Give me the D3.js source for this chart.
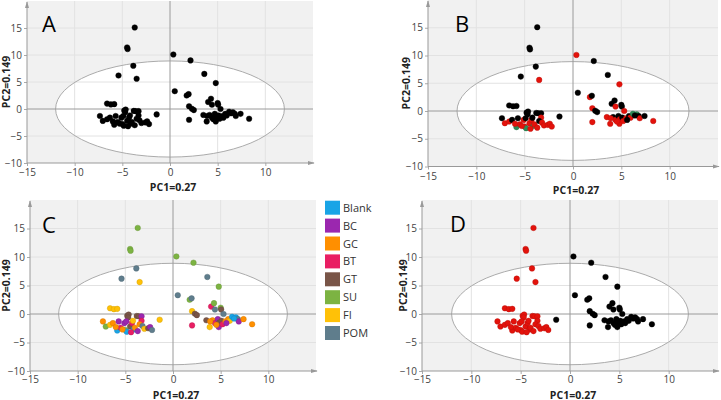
<!DOCTYPE html>
<html><head><meta charset="utf-8">
<script src="https://cdn.jsdelivr.net/npm/d3@7"></script>
<style>body{margin:0;background:#fff;} svg{display:block;font-family:"Open Sans",sans-serif;}</style>
</head><body><svg id="c" width="721" height="400"></svg>
<script>
// PCA scores (same samples in every panel)
const pc1 = [-3.7,-4.5,-4.45,-3.85,-5.4,-3.5,
  0.35,2.15,3.6,4.8,0.5,1.75,1.95,2.0,2.3,2.5,2.0,-1.4,
  -6.6,-6.2,-5.85,
  -7.35,-7.05,-6.6,-6.3,-5.7,-5.85,-5.5,-5.1,-5.0,-4.85,-4.8,-4.65,-4.7,-4.9,-4.5,-4.3,-4.1,-4.0,-3.8,-3.6,-3.3,-3.3,-3.5,-3.2,-3.0,-2.6,-2.4,-2.2,-3.7,-4.4,-5.3,-4.2,-6.0,
  4.0,4.3,4.4,5.0,5.05,5.3,3.5,3.85,4.15,4.4,4.7,4.8,4.85,5.1,5.2,5.5,5.8,5.95,6.2,6.6,6.8,6.9,7.4,8.3,4.55,5.6,3.9,6.4];
const pc2 = [15.1,11.4,11.1,8.0,6.2,5.6,
  10.1,9.0,6.5,4.8,3.3,2.5,2.75,0.5,0.05,-0.2,-2.0,-1.0,
  1.0,0.85,0.9,
  -1.3,-2.2,-1.9,-1.6,-1.3,-2.9,-2.4,-1.6,-2.8,-3.1,-0.3,-0.1,-0.6,-1.3,-2.2,-1.6,-2.7,-2.4,-0.35,-0.4,-0.4,-1.2,-1.8,-2.1,-2.6,-2.5,-2.3,-2.8,-3.0,-3.2,-2.7,-1.2,-2.3,
  1.3,1.9,0.8,1.1,0.8,0.0,-1.1,-2.3,-1.1,-1.6,-0.9,-2.3,-1.5,-1.2,-1.8,-1.3,-0.9,-1.2,-0.5,-0.6,-0.9,-1.3,-0.9,-1.8,-1.9,-1.6,-1.3,-0.8];
// panel C: sample type
const groupC = ["SU","SU","SU","POM","POM","FI",
  "SU","SU","POM","SU","POM","SU","POM","FI","GT","GT","BT","FI",
  "FI","FI","FI",
  "GC","SU","FI","GC","BC","Blank","BT","BC","SU","Blank","GT","GT","GT","BC","GT","BT","Blank","GC","GT","GT","BC","BT","GC","POM","FI","GT","BC","POM","BC","BT","GC","FI","GC",
  "BT","SU","POM","SU","GT","POM","GT","FI","GC","BT","BC","BC","GT","GT","BT","GC","GC","FI","Blank","Blank","POM","BC","GC","GC","GC","BC","GC","Blank"];
// panel B: k = black, r = red, g = green
const groupB = ["k","k","k","k","k","r",
  "r","k","k","r","k","r","k","r","k","k","r","k",
  "k","k","k",
  "k","r","r","k","k","g","r","r","r","g","k","k","k","k","r","r","g","r","k","k","k","r","k","r","r","r","r","r","r","r","r","k","r",
  "k","k","r","k","k","r","r","r","k","r","k","r","r","k","r","r","k","r","g","g","k","r","k","r","r","k","r","k"];
// panel D: two clusters
const groupD = ["r","r","r","r","r","r",
  "k","k","k","k","k","k","k","k","k","k","k","k",
  "r","r","r",
  "r","r","r","r","r","r","r","r","r","r","r","r","r","r","r","r","r","r","r","r","r","r","r","r","r","r","r","r","r","r","r","r","r",
  "k","k","k","k","k","k","k","k","k","k","k","k","k","k","k","k","k","k","k","k","k","k","k","k","k","k","k","k"];

const legendLabels = ["Blank","BC","GC","BT","GT","SU","FI","POM"];
const legendColors = ["#19a4e6","#9b27af","#ff8f00","#e91e63","#795548","#7cb342","#ffc107","#5f7d8c"];
const twoColors = {k:"#000000", r:"#e3120b", g:"#2e8b57"};
const xTicks = [-15,-10,-5,0,5,10];
const yTicks = [-10,-5,0,5,10,15];
const gridX = [-10,-5,5,10];
const gridY = [-5,5,10,15];

const colorC = d3.scaleOrdinal(legendLabels, legendColors);

const panels = [
  {letter:"A", x0:27, x1:313, y0:1, y1:163, lx:42, ly:32, ylabX:9.5, xlabY:191, pad:3, color:()=>"#000"},
  {letter:"B", x0:428, x1:718, y0:0, y1:166.5, lx:455, ly:32, ylabX:410, xlabY:194, pad:3, color:i=>twoColors[groupB[i]]},
  {letter:"C", x0:30, x1:316, y0:200, y1:371, lx:42, ly:233, ylabX:9.5, xlabY:398.5, pad:2, color:i=>colorC(groupC[i])},
  {letter:"D", x0:422, x1:718, y0:200, y1:371, lx:450, ly:232, ylabX:406.5, xlabY:398.5, pad:2, color:i=>twoColors[groupD[i]]}
];

const svg = d3.select("#c");
const defs = svg.append("defs");
defs.append("marker").attr("id","arr").attr("viewBox","0 0 10 10").attr("refX",9).attr("refY",5)
  .attr("markerWidth",7).attr("markerHeight",7).attr("orient","auto")
  .append("path").attr("d","M0,2 L10,5 L0,8 Z").attr("fill","#999");

const idx = d3.range(pc1.length);

panels.forEach(p => {
  const x = d3.scaleLinear([-15,15],[p.x0,p.x1]);
  const y = d3.scaleLinear([-10,20],[p.y1,p.y0]);
  const g = svg.append("g");
  g.append("rect").attr("x",p.x0).attr("y",p.y0).attr("width",p.x1-p.x0).attr("height",p.y1-p.y0).attr("fill","#f1f1f1");
  g.append("ellipse").attr("cx",x(0)).attr("cy",y(0)).attr("rx",x(12)-x(0)).attr("ry",y(0)-y(8.9))
    .attr("fill","#ffffff");
  g.selectAll(".gx").data(gridX).join("line").attr("x1",d=>x(d)).attr("x2",d=>x(d)).attr("y1",p.y0).attr("y2",p.y1)
    .attr("stroke","#e2e2e2").attr("stroke-width",1);
  g.selectAll(".gy").data(gridY).join("line").attr("y1",d=>y(d)).attr("y2",d=>y(d)).attr("x1",p.x0).attr("x2",p.x1)
    .attr("stroke","#e2e2e2").attr("stroke-width",1);
  g.append("ellipse").attr("cx",x(0)).attr("cy",y(0)).attr("rx",x(12)-x(0)).attr("ry",y(0)-y(8.9))
    .attr("fill","none").attr("stroke","#ababab").attr("stroke-width",1);
  // zero lines
  g.append("line").attr("x1",x(0)).attr("x2",x(0)).attr("y1",p.y0).attr("y2",p.y1).attr("stroke","#9a9a9a");
  g.append("line").attr("x1",p.x0).attr("x2",p.x1).attr("y1",y(0)).attr("y2",y(0)).attr("stroke","#9a9a9a");
  // axes
  const ax = g.append("g").attr("transform",`translate(0,${p.y1})`)
    .call(d3.axisBottom(x).tickValues(xTicks).tickSize(3).tickSizeOuter(0).tickPadding(p.pad));
  const ay = g.append("g").attr("transform",`translate(${p.x0},0)`)
    .call(d3.axisLeft(y).tickValues(yTicks).tickSize(3).tickSizeOuter(0).tickPadding(2));
  [ax,ay].forEach(a=>{
    a.select(".domain").remove();
    a.selectAll("line").attr("stroke","#aaa");
    a.selectAll("text").attr("fill","#444").attr("font-size",10).attr("font-family","Open Sans");
  });
  g.append("line").attr("x1",p.x0).attr("x2",p.x1+1).attr("y1",p.y1).attr("y2",p.y1)
    .attr("stroke","#999").attr("marker-end","url(#arr)");
  g.append("line").attr("x1",p.x0).attr("x2",p.x0).attr("y1",p.y1).attr("y2",p.y0+1)
    .attr("stroke","#999").attr("marker-end","url(#arr)");
  // points
  g.selectAll(".pt").data(idx).join("circle")
    .attr("cx",i=>x(pc1[i])).attr("cy",i=>y(pc2[i])).attr("r",2.8)
    .attr("fill",i=>p.color(i))
    .attr("stroke",i=>d3.color(p.color(i)).darker(0.6)).attr("stroke-width",0.4);
  // labels
  g.append("text").attr("x",p.lx).attr("y",p.ly).attr("font-size",22).attr("fill","#000").text(p.letter);
  g.append("text").attr("x",x(0)+3).attr("y",p.xlabY).attr("text-anchor","middle")
    .attr("font-size",10.5).attr("font-weight","bold").attr("fill","#222").text("PC1=0.27");
  g.append("text").attr("transform",`translate(${p.ylabX},${(p.y0+p.y1)/2}) rotate(-90)`).attr("text-anchor","middle")
    .attr("font-size",10.5).attr("font-weight","bold").attr("fill","#222").text("PC2=0.149");
});

// legend
const lg = svg.append("g");
lg.selectAll("rect").data(legendLabels).join("rect")
  .attr("x",325).attr("y",(d,i)=>200.7+i*17.9).attr("width",15).attr("height",14)
  .attr("fill",d=>colorC(d));
lg.selectAll("text").data(legendLabels).join("text")
  .attr("x",343).attr("y",(d,i)=>200.7+i*17.9+11).attr("font-size",11).attr("fill","#333").text(d=>d);
</script></body></html>
